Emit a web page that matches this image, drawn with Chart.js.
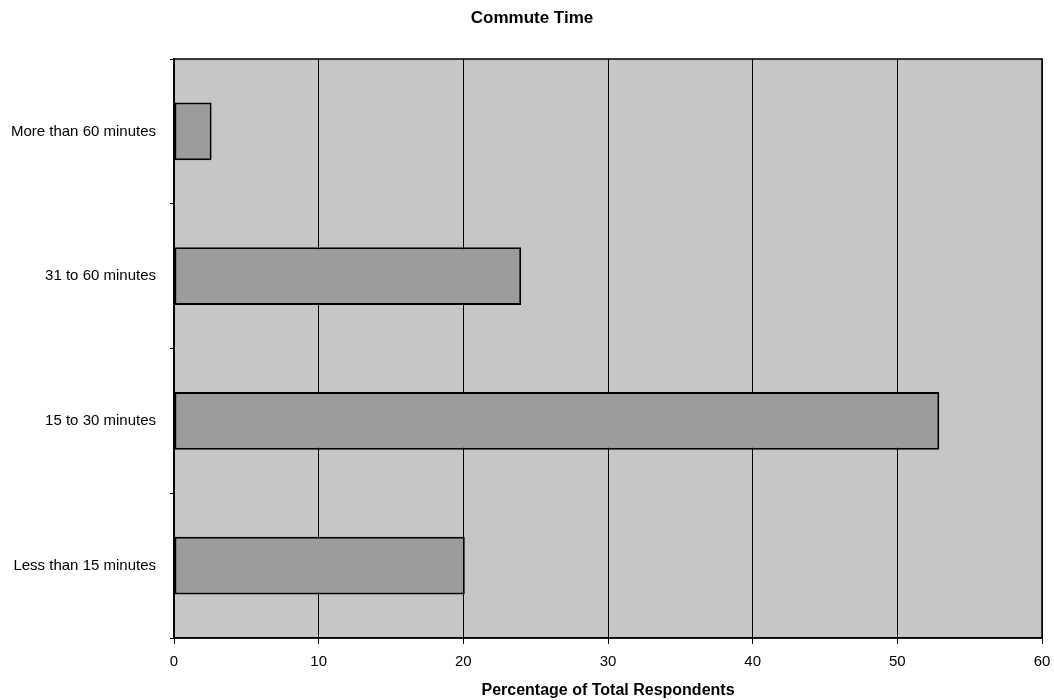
<!DOCTYPE html>
<html>
<head>
<meta charset="utf-8">
<script src="https://cdn.jsdelivr.net/npm/chart.js@4"></script>
<style>
  html, body { margin: 0; padding: 0; background: #fff; }
  #wrap { width: 1054px; height: 700px; }
</style>
</head>
<body>
<div id="wrap"><canvas id="commute-chart" width="1054" height="700"></canvas></div>
<script>
const categories = ["More than 60 minutes", "31 to 60 minutes", "15 to 30 minutes", "Less than 15 minutes"];
const percentages = [2.6, 24.0, 52.9, 20.1];
const xTicks = [0, 10, 20, 30, 40, 50, 60];

// grey plot area with a black frame, title nudged to sit over the plot
const plotBackground = {
  id: "plotBackground",
  afterLayout(chart) {
    const t = chart.titleBlock;
    if (t) {
      t.left += 11;
      t.right += 11;
    }
  },
  beforeDraw(chart) {
    const { ctx, chartArea: a } = chart;
    ctx.save();
    ctx.fillStyle = "#c6c6c6";
    ctx.fillRect(a.left, a.top, a.right - a.left, a.bottom - a.top);
    ctx.restore();
  },
  afterDraw(chart) {
    const { ctx, chartArea: a } = chart;
    ctx.save();
    ctx.strokeStyle = "#000";
    ctx.lineWidth = 1.5;
    ctx.strokeRect(a.left, a.top, a.right - a.left, a.bottom - a.top);
    ctx.restore();
  },
};

const data = {
  labels: categories,
  datasets: [
    {
      data: percentages,
      backgroundColor: "#9c9c9c",
      borderColor: "#000",
      borderWidth: 2,
      borderSkipped: false,
      categoryPercentage: 1,
      barPercentage: 0.4,
    },
  ],
};

const config = {
  type: "bar",
  data: data,
  plugins: [plotBackground],
  options: {
    indexAxis: "y",
    responsive: false,
    animation: false,
    layout: { padding: { left: 0, right: 12, top: 0, bottom: 0 } },
    scales: {
      x: {
        min: 0,
        max: 60,
        afterBuildTicks(scale) {
          scale.ticks = xTicks.map((v) => ({ value: v }));
        },
        afterFit(scale) {
          scale.paddingLeft = 0;
          scale.paddingRight = 0;
        },
        grid: { color: "#000", lineWidth: 1, tickLength: 6, tickColor: "#000" },
        border: { color: "#000", width: 1.5 },
        ticks: {
          color: "#000",
          font: { family: "Liberation Sans", size: 15 },
          padding: 9,
        },
        title: {
          display: true,
          text: "Percentage of Total Respondents",
          color: "#000",
          font: { family: "Liberation Sans", size: 16, weight: "bold" },
          padding: { top: 0.8, bottom: 0 },
        },
      },
      y: {
        afterFit(scale) {
          scale.width = 174;
        },
        grid: { drawOnChartArea: false, tickLength: 4, tickColor: "#000", offset: true },
        border: { color: "#000", width: 1.5 },
        ticks: {
          color: "#000",
          font: { family: "Liberation Sans", size: 15 },
          padding: 14,
        },
      },
    },
    plugins: {
      legend: { display: false },
      tooltip: { enabled: false },
      title: {
        display: true,
        text: "Commute Time",
        color: "#000",
        font: { family: "Liberation Sans", size: 17, weight: "bold" },
        padding: { top: 8, bottom: 30.6 },
      },
    },
  },
};

const chartCanvas = document.getElementById("commute-chart");
new Chart(chartCanvas, config);
</script>
</body>
</html>
